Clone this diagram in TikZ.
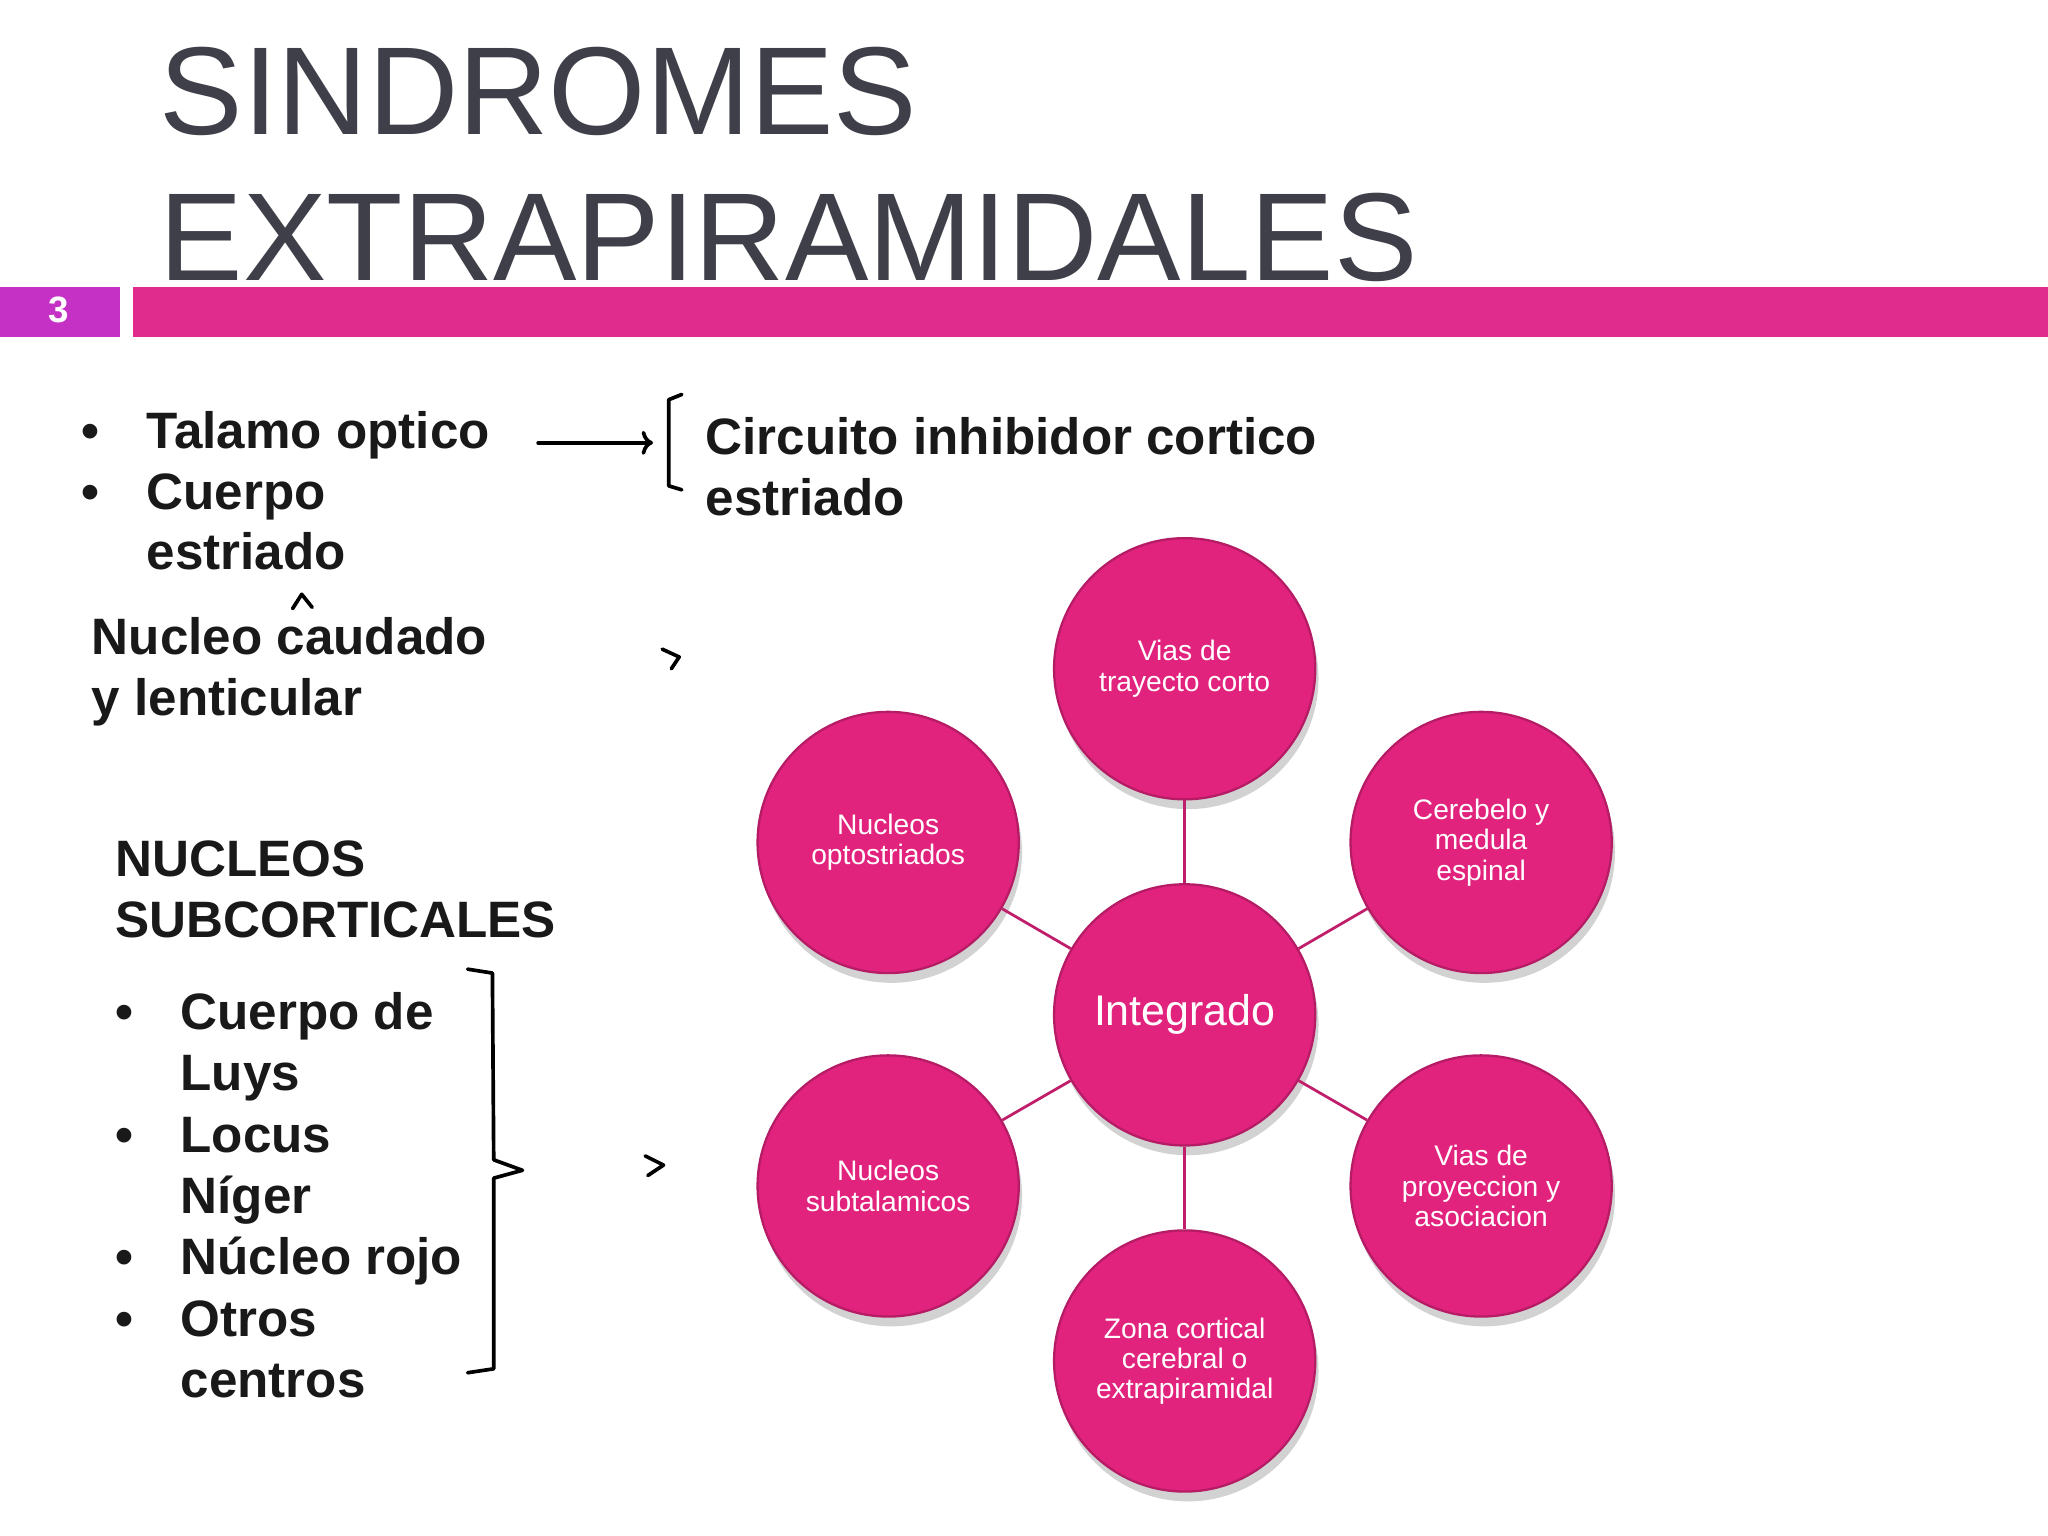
\documentclass[tikz,border=0pt]{standalone}
\usepackage{fontspec}
\setmainfont{Liberation Sans}
\usetikzlibrary{shadows,arrows.meta}
\definecolor{pk}{HTML}{E2237E}
\definecolor{bar}{HTML}{E02C8C}
\definecolor{pu}{HTML}{C431C4}
\definecolor{tg}{HTML}{3F3F4A}
\begin{document}
\begin{tikzpicture}[x=0.02cm,y=-0.02cm,
  big/.style={anchor=base west,font=\fontsize{22.3}{24}\selectfont\bfseries,text=black!90,inner sep=0},
  ttl/.style={anchor=base west,font=\fontsize{54.5}{56}\selectfont,text=tg,inner sep=0},
  ball/.style={circle,minimum size=4cm,fill=pk,draw=pk!80!black,line width=1pt,
    drop shadow={shadow xshift=0.5mm,shadow yshift=-1.5mm,opacity=0.35},
    text=white,align=center,font=\fontsize{12.3}{13.2}\selectfont},
  link/.style={draw=pk!85!black,line width=1.2pt},
  hand/.style={draw=black,line width=1.6pt,line cap=round,line join=round}]
\useasboundingbox (0,0) rectangle (1568,1176);
\fill[white] (0,0) rectangle (1568,1176);
% title
\node[ttl] (t1) at (122,103) {SINDROMES};
\node[ttl] (t2) at (122,215) {EXTRAPIRAMIDALES};
\fill[pu] (0,220) rectangle (92,258);
\fill[bar] (102,220) rectangle (1568,258);
\node[text=white,font=\fontsize{16}{16}\selectfont\bfseries] (num) at (45,237) {3};
% upper list
\node[big] (b1) at (62,343) {•};
\node[big] (a1) at (112,343) {Talamo optico};
\node[big] (b2) at (62,390) {•};
\node[big] (a2) at (112,390) {Cuerpo};
\node[big] (a3) at (112,436) {estriado};
\node[big] (n1) at (70,501) {Nucleo caudado};
\node[big] (n2) at (70,548) {y lenticular};
\node[big] (c1) at (540,348) {Circuito inhibidor cortico};
\node[big] (c2) at (540,395) {estriado};
% hand marks
\coordinate (ar0) at (412,339);
\coordinate (ar1) at (500,339);
\draw[hand,-{To[length=5pt]}] (ar0) -- (ar1);
\draw[hand] (522,302) -- (512,306) -- (512,372) -- (522,375);
\draw[hand] (224,466) -- (231,455) -- (239,465);
\draw[hand] (507,497) -- (520,503) -- (514,512);
\draw[hand] (494,885) -- (508,892) -- (496,900);
% lower list
\node[big] (h1) at (88,671) {NUCLEOS};
\node[big] (h2) at (88,718) {SUBCORTICALES};
\foreach \y in {788,882,976,1023} \node[big] at (88,\y) {•};
\node[big] (l1) at (138,788) {Cuerpo de};
\node[big] (l2) at (138,835) {Luys};
\node[big] (l3) at (138,882) {Locus};
\node[big] (l4) at (138,929) {Níger};
\node[big] (l5) at (138,976) {Núcleo rojo};
\node[big] (l6) at (138,1023) {Otros};
\node[big] (l7) at (138,1070) {centros};
\draw[hand] (358,742) -- (377,745) -- (378,888) -- (400,896) -- (378,902) -- (378,1048) -- (358,1051);
% circles
\node[ball] (c) at (907,777) {\fontsize{18.7}{20}\selectfont Integrado};
\node[ball] (o1) at (907,512) {Vias de\\trayecto corto};
\node[ball] (o2) at (1134,645) {Cerebelo y\\medula\\espinal};
\node[ball] (o3) at (1134,908) {Vias de\\proyeccion y\\asociacion};
\node[ball] (o4) at (907,1042) {Zona cortical\\cerebral o\\extrapiramidal};
\node[ball] (o5) at (680,908) {Nucleos\\subtalamicos};
\node[ball] (o6) at (680,645) {Nucleos\\optostriados};
\foreach \o in {o1,o2,o3,o4,o5,o6} \draw[link] (c) -- (\o);
\end{tikzpicture}
\end{document}
